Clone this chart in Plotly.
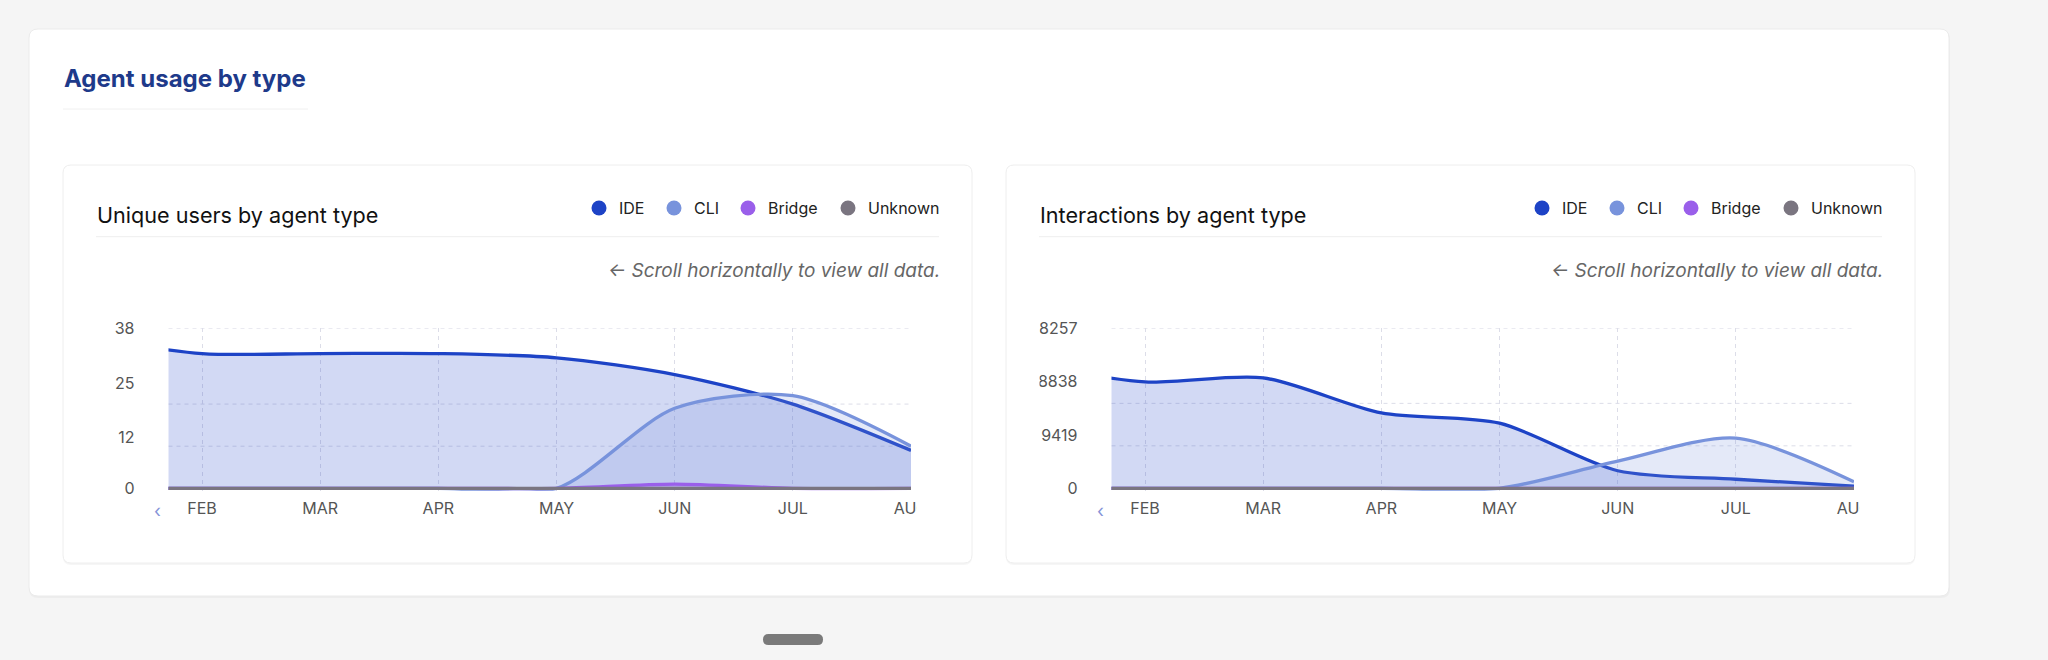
import plotly.graph_objects as go

# canvas size in px
W, H = 2048, 660

# ---- data ----
MONTHS = ["JAN", "FEB", "MAR", "APR", "MAY", "JUN", "JUL", "AUG"]
SERIES = ["IDE", "CLI", "Bridge", "Unknown"]

users_ide = [36, 32, 32, 32, 31, 27, 20, 9]
users_cli = [0, 0, 0, 0, 0, 19, 22, 10]
users_bridge = [0, 0, 0, 0, 0, 1, 0, 0]
users_unknown = [0, 0, 0, 0, 0, 0, 0, 0]

inter_ide = [22000, 18800, 19500, 13300, 11500, 3100, 1600, 400]
inter_cli = [0, 0, 0, 0, 0, 4800, 8850, 1150]
inter_bridge = [0, 0, 0, 0, 0, 0, 0, 0]
inter_unknown = [0, 0, 0, 0, 0, 0, 0, 0]

users_ticks = [0, 12, 25, 38]
inter_ticks = [0, 9419, 18838, 28257]
users_grid = [10, 20, 38]
inter_grid = [7500, 15000, 28257]

# ---- styles ----
COLORS = {"IDE": "#1d43c6", "CLI": "#7893dc", "Bridge": "#9a5fea", "Unknown": "#7a7580"}
FILLS = {
    "IDE": "rgba(29,67,198,0.2)",
    "CLI": "rgba(120,147,220,0.2)",
    "Bridge": "rgba(154,95,234,0.35)",
    "Unknown": "rgba(122,117,128,0.2)",
}
FONT = "Inter"
GRID = "#dcdde8"


def px(x):
    return x / W


def py(y):
    return 1 - y / H


def rounded_rect(x0, y0, x1, y1, r):
    # svg path in paper coords from pixel box
    pts = [
        f"M {px(x0 + r)},{py(y0)}",
        f"L {px(x1 - r)},{py(y0)}",
        f"Q {px(x1)},{py(y0)} {px(x1)},{py(y0 + r)}",
        f"L {px(x1)},{py(y1 - r)}",
        f"Q {px(x1)},{py(y1)} {px(x1 - r)},{py(y1)}",
        f"L {px(x0 + r)},{py(y1)}",
        f"Q {px(x0)},{py(y1)} {px(x0)},{py(y1 - r)}",
        f"L {px(x0)},{py(y0 + r)}",
        f"Q {px(x0)},{py(y0)} {px(x0 + r)},{py(y0)}",
        "Z",
    ]
    return " ".join(pts)


fig = go.Figure()
shapes = []
annotations = []

# page card
shapes.append(dict(type="path", path=rounded_rect(29, 30, 1950, 598, 9), xref="paper", yref="paper",
                   fillcolor="rgba(0,0,0,0.03)", line=dict(width=0), layer="below"))
shapes.append(dict(type="path", path=rounded_rect(29, 29, 1949, 596, 9), xref="paper", yref="paper",
                   fillcolor="white", line=dict(color="#ebebeb", width=1), layer="below"))
annotations.append(dict(text="<b>Agent usage by type</b>", x=px(62), y=py(79), xref="paper", yref="paper",
                        xanchor="left", yanchor="middle", showarrow=False,
                        font=dict(family=FONT, size=24, color="#1e3a8a")))
shapes.append(dict(type="line", x0=px(63), x1=px(308), y0=py(109), y1=py(109), xref="paper", yref="paper",
                   line=dict(color="#f0f0f0", width=1)))

# scroll handle
shapes.append(dict(type="path", path=rounded_rect(763, 634, 823, 645, 5.5), xref="paper", yref="paper",
                   fillcolor="#7a7a7a", line=dict(width=0)))

panels = [
    dict(title="Unique users by agent type", left=63, ax="", values=[users_ide, users_cli, users_bridge, users_unknown],
         ticks=users_ticks, grid=users_grid, top=38, low=-0.6),
    dict(title="Interactions by agent type", left=1006, ax="2", values=[inter_ide, inter_cli, inter_bridge, inter_unknown],
         ticks=inter_ticks, grid=inter_grid, top=28257, low=-440),
]

legend_dx = [536, 611, 685, 785]  # dot centres relative to card left

for p in panels:
    L = p["left"]
    ax = p["ax"]
    # card
    shapes.append(dict(type="path", path=rounded_rect(L, 166, L + 909, 565, 8), xref="paper", yref="paper",
                       fillcolor="rgba(0,0,0,0.035)", line=dict(width=0), layer="below"))
    shapes.append(dict(type="path", path=rounded_rect(L, 165, L + 909, 563, 8), xref="paper", yref="paper",
                       fillcolor="white", line=dict(color="#eeeeee", width=1), layer="below"))
    annotations.append(dict(text=p["title"], x=px(L + 31.5), y=py(215), xref="paper", yref="paper",
                            xanchor="left", yanchor="middle", showarrow=False,
                            font=dict(family=FONT, size=21.6, color="#111111")))
    shapes.append(dict(type="line", x0=px(L + 33), x1=px(L + 876), y0=py(236.7), y1=py(236.7),
                       xref="paper", yref="paper", line=dict(color="#eeeeee", width=1)))
    for name, dx in zip(SERIES, legend_dx):
        cx = L + dx
        shapes.append(dict(type="circle", x0=px(cx - 7.5), x1=px(cx + 7.5), y0=py(200.5), y1=py(215.5),
                           xref="paper", yref="paper", fillcolor=COLORS[name], line=dict(width=0)))
        annotations.append(dict(text=name, x=px(cx + 17.5), y=py(208), xref="paper", yref="paper",
                                xanchor="left", yanchor="middle", showarrow=False,
                                font=dict(family=FONT, size=16, color="#222222")))
    annotations.append(dict(text="<i>← Scroll horizontally to view all data.</i>", x=px(L + 879), y=py(270),
                            xref="paper", yref="paper", xanchor="right", yanchor="middle", showarrow=False,
                            font=dict(family=FONT, size=19, color="#666666")))
    annotations.append(dict(text="‹", x=px(L + 94), y=py(510), xref="paper", yref="paper",
                            xanchor="center", yanchor="middle", showarrow=False,
                            font=dict(family=FONT, size=18, color="#8594d8")))

    # series
    for name, vals in zip(SERIES, p["values"]):
        fig.add_trace(go.Scatter(
            x=MONTHS, y=vals, name=name, mode="lines", xaxis="x" + ax, yaxis="y" + ax,
            line=dict(color=COLORS[name], width=3.3, shape="spline", smoothing=0.8),
            fill="tozeroy", fillcolor=FILLS[name], hoverinfo="skip", showlegend=False,
        ))

    # horizontal dashed grid
    for g in p["grid"]:
        shapes.append(dict(type="line", xref=f"x{ax} domain", yref=f"y{ax}", x0=0, x1=1, y0=g, y1=g,
                           line=dict(color=GRID, width=1, dash="4px,4px"), layer="below"))

    # plot geometry
    x_left, x_right = L + 105.5, L + 848
    y_top = 328.3
    y_zero = 488.3
    scale = (y_zero - y_top) / p["top"]
    y_bot = y_zero - p["low"] * scale

    fig.layout["xaxis" + ax] = dict(
        type="category", domain=[px(x_left), px(x_right)], range=[0.716, 7], anchor="y" + ax,
        showgrid=True, gridcolor=GRID, griddash="4px,4px", gridwidth=1, zeroline=False, showline=False,
        ticks="", ticklabelstandoff=6, tickfont=dict(family=FONT, size=16, color="#555555"),
        fixedrange=True, automargin=False,
    )
    fig.layout["yaxis" + ax] = dict(
        domain=[py(y_bot), py(y_top)], range=[p["low"], p["top"]], anchor="x" + ax,
        tickvals=p["ticks"], ticktext=[str(t) for t in p["ticks"]],
        showgrid=False, zeroline=False, showline=False, ticks="", ticklabelstandoff=33,
        tickfont=dict(family=FONT, size=16, color="#555555"), fixedrange=True, automargin=False,
    )

    # clipped tick labels: right edge of AUG label, left part of the y labels
    shapes.append(dict(type="rect", x0=px(x_right + 6), x1=px(x_right + 50), y0=py(494), y1=py(525),
                       xref="paper", yref="paper", fillcolor="white", line=dict(width=0), layer="above"))
    shapes.append(dict(type="rect", x0=px(L + 2), x1=px(L + 33.5), y0=py(310), y1=py(500),
                       xref="paper", yref="paper", fillcolor="white", line=dict(width=0), layer="above"))

fig.update_layout(
    width=W, height=H, margin=dict(l=0, r=0, t=0, b=0, pad=0, autoexpand=False),
    paper_bgcolor="#f5f5f5", plot_bgcolor="rgba(0,0,0,0)",
    shapes=shapes, annotations=annotations, showlegend=False,
    font=dict(family=FONT),
)

# page itself: no body margin, so the figure fills the window exactly
fig.write_html(
    "out.html",
    config={"displayModeBar": False},
    post_script="document.body.style.margin='0';document.body.style.overflow='hidden';"
                "document.body.style.background='#f5f5f5';",
)
